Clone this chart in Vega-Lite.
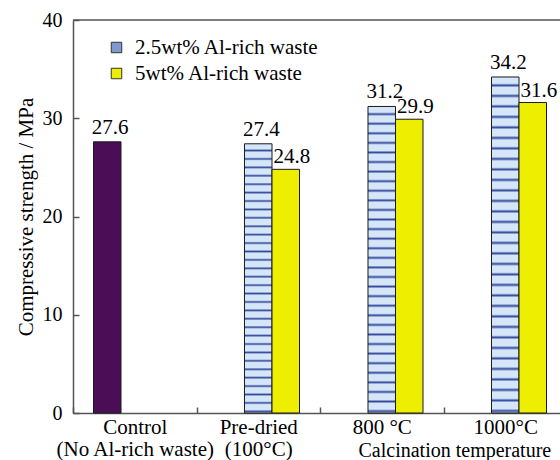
{
  "$schema": "https://vega.github.io/schema/vega-lite/v6.json",
  "autosize": {"type": "none"},
  "padding": {"left": 73, "top": 20, "right": 0, "bottom": 47},
  "width": 487,
  "height": 393,
  "background": "white",
  "config": {
    "font": "'Liberation Serif', 'Times New Roman', Times, serif",
    "view": {"stroke": null},
    "text": {"font": "'Liberation Serif', 'Times New Roman', Times, serif"},
    "axis": {
      "domainColor": "#555555",
      "domainWidth": 1.5,
      "tickColor": "#555555",
      "tickWidth": 1.5,
      "labelColor": "black",
      "titleColor": "black",
      "labelFont": "'Liberation Serif', 'Times New Roman', Times, serif",
      "titleFont": "'Liberation Serif', 'Times New Roman', Times, serif",
      "titleFontWeight": "normal",
      "grid": false
    },
    "legend": {"labelFont": "'Liberation Serif', 'Times New Roman', Times, serif", "labelColor": "black"}
  },
  "data": {
    "values": [
      {"cat": "Control|(No Al-rich waste)", "series": "Control", "value": 27.6},
      {"cat": "Pre-dried|(100°C)", "series": "2.5wt% Al-rich waste", "value": 27.4},
      {"cat": "Pre-dried|(100°C)", "series": "5wt% Al-rich waste", "value": 24.8},
      {"cat": "800 °C", "series": "2.5wt% Al-rich waste", "value": 31.2},
      {"cat": "800 °C", "series": "5wt% Al-rich waste", "value": 29.9},
      {"cat": "1000°C", "series": "2.5wt% Al-rich waste", "value": 34.2},
      {"cat": "1000°C", "series": "5wt% Al-rich waste", "value": 31.6}
    ]
  },
  "layer": [
    {
      "mark": {"type": "bar", "stroke": "#1a1a1a", "strokeWidth": 1},
      "encoding": {
        "x": {
          "field": "cat", "type": "nominal", "sort": null,
          "scale": {"range": [0, 494], "paddingInner": 0, "paddingOuter": 0},
          "axis": {
            "title": "Calcination temperature",
            "titleX": 285, "titleY": 37, "titleAlign": "left", "titleBaseline": "middle",
            "titleFontSize": 20, "titleAnchor": "start",
            "labelAngle": 0, "labelExpr": "split(datum.label, '|')", "labelLineHeight": 22,
            "labelFontSize": 21, "labelPadding": 9, "tickBand": "extent", "tickSize": -6
          }
        },
        "xOffset": {
          "field": "series", "type": "nominal",
          "scale": {"domain": ["Control", "2.5wt% Al-rich waste", "5wt% Al-rich waste"], "paddingInner": 0, "paddingOuter": 0.745}
        },
        "y": {
          "field": "value", "type": "quantitative",
          "scale": {"domain": [0, 40]},
          "axis": {
            "title": "Compressive strength / MPa", "values": [0, 10, 20, 30, 40],
            "tickSize": -6, "labelPadding": 17, "titlePadding": 6,
            "titleFontSize": 21, "labelFontSize": 20
          }
        },
        "fill": {
          "condition": {
            "test": "datum.series === '2.5wt% Al-rich waste'",
            "value": {
              "gradient": "linear", "x1": 0, "y1": 0, "x2": 0, "y2": 1,
              "stops": [
                {"offset": 0, "color": "#d4e6f7"}, {"offset": 0.0188, "color": "#d4e6f7"}, {"offset": 0.025, "color": "#34489c"},
                {"offset": 0.03125, "color": "#d4e6f7"}, {"offset": 0.05005, "color": "#d4e6f7"}, {"offset": 0.05625, "color": "#34489c"},
                {"offset": 0.0625, "color": "#d4e6f7"}, {"offset": 0.0813, "color": "#d4e6f7"}, {"offset": 0.0875, "color": "#34489c"},
                {"offset": 0.09375, "color": "#d4e6f7"}, {"offset": 0.11255, "color": "#d4e6f7"}, {"offset": 0.11875, "color": "#34489c"},
                {"offset": 0.125, "color": "#d4e6f7"}, {"offset": 0.1438, "color": "#d4e6f7"}, {"offset": 0.15, "color": "#34489c"},
                {"offset": 0.15625, "color": "#d4e6f7"}, {"offset": 0.17505, "color": "#d4e6f7"}, {"offset": 0.18125, "color": "#34489c"},
                {"offset": 0.1875, "color": "#d4e6f7"}, {"offset": 0.2063, "color": "#d4e6f7"}, {"offset": 0.2125, "color": "#34489c"},
                {"offset": 0.21875, "color": "#d4e6f7"}, {"offset": 0.23755, "color": "#d4e6f7"}, {"offset": 0.24375, "color": "#34489c"},
                {"offset": 0.25, "color": "#d4e6f7"}, {"offset": 0.2688, "color": "#d4e6f7"}, {"offset": 0.275, "color": "#34489c"},
                {"offset": 0.28125, "color": "#d4e6f7"}, {"offset": 0.30005, "color": "#d4e6f7"}, {"offset": 0.30625, "color": "#34489c"},
                {"offset": 0.3125, "color": "#d4e6f7"}, {"offset": 0.3313, "color": "#d4e6f7"}, {"offset": 0.3375, "color": "#34489c"},
                {"offset": 0.34375, "color": "#d4e6f7"}, {"offset": 0.36255, "color": "#d4e6f7"}, {"offset": 0.36875, "color": "#34489c"},
                {"offset": 0.375, "color": "#d4e6f7"}, {"offset": 0.3938, "color": "#d4e6f7"}, {"offset": 0.4, "color": "#34489c"},
                {"offset": 0.40625, "color": "#d4e6f7"}, {"offset": 0.42505, "color": "#d4e6f7"}, {"offset": 0.43125, "color": "#34489c"},
                {"offset": 0.4375, "color": "#d4e6f7"}, {"offset": 0.4563, "color": "#d4e6f7"}, {"offset": 0.4625, "color": "#34489c"},
                {"offset": 0.46875, "color": "#d4e6f7"}, {"offset": 0.48755, "color": "#d4e6f7"}, {"offset": 0.49375, "color": "#34489c"},
                {"offset": 0.5, "color": "#d4e6f7"}, {"offset": 0.5188, "color": "#d4e6f7"}, {"offset": 0.525, "color": "#34489c"},
                {"offset": 0.53125, "color": "#d4e6f7"}, {"offset": 0.55005, "color": "#d4e6f7"}, {"offset": 0.55625, "color": "#34489c"},
                {"offset": 0.5625, "color": "#d4e6f7"}, {"offset": 0.5813, "color": "#d4e6f7"}, {"offset": 0.5875, "color": "#34489c"},
                {"offset": 0.59375, "color": "#d4e6f7"}, {"offset": 0.61255, "color": "#d4e6f7"}, {"offset": 0.61875, "color": "#34489c"},
                {"offset": 0.625, "color": "#d4e6f7"}, {"offset": 0.6438, "color": "#d4e6f7"}, {"offset": 0.65, "color": "#34489c"},
                {"offset": 0.65625, "color": "#d4e6f7"}, {"offset": 0.67505, "color": "#d4e6f7"}, {"offset": 0.68125, "color": "#34489c"},
                {"offset": 0.6875, "color": "#d4e6f7"}, {"offset": 0.7063, "color": "#d4e6f7"}, {"offset": 0.7125, "color": "#34489c"},
                {"offset": 0.71875, "color": "#d4e6f7"}, {"offset": 0.73755, "color": "#d4e6f7"}, {"offset": 0.74375, "color": "#34489c"},
                {"offset": 0.75, "color": "#d4e6f7"}, {"offset": 0.7688, "color": "#d4e6f7"}, {"offset": 0.775, "color": "#34489c"},
                {"offset": 0.78125, "color": "#d4e6f7"}, {"offset": 0.80005, "color": "#d4e6f7"}, {"offset": 0.80625, "color": "#34489c"},
                {"offset": 0.8125, "color": "#d4e6f7"}, {"offset": 0.8313, "color": "#d4e6f7"}, {"offset": 0.8375, "color": "#34489c"},
                {"offset": 0.84375, "color": "#d4e6f7"}, {"offset": 0.86255, "color": "#d4e6f7"}, {"offset": 0.86875, "color": "#34489c"},
                {"offset": 0.875, "color": "#d4e6f7"}, {"offset": 0.8938, "color": "#d4e6f7"}, {"offset": 0.9, "color": "#34489c"},
                {"offset": 0.90625, "color": "#d4e6f7"}, {"offset": 0.92505, "color": "#d4e6f7"}, {"offset": 0.93125, "color": "#34489c"},
                {"offset": 0.9375, "color": "#d4e6f7"}, {"offset": 0.9563, "color": "#d4e6f7"}, {"offset": 0.9625, "color": "#34489c"},
                {"offset": 0.96875, "color": "#d4e6f7"}, {"offset": 0.98755, "color": "#d4e6f7"}, {"offset": 0.99375, "color": "#34489c"},
                {"offset": 1, "color": "#d4e6f7"}
              ]
            }
          },
          "field": "series", "type": "nominal",
          "scale": {
            "domain": ["Control", "2.5wt% Al-rich waste", "5wt% Al-rich waste"],
            "range": ["#4b0d55", "#8198cc", "#eeee00"]
          },
          "legend": {
            "values": ["2.5wt% Al-rich waste", "5wt% Al-rich waste"],
            "title": null, "orient": "none", "legendX": 33, "legendY": 17, "padding": 0,
            "symbolType": "square", "symbolSize": 110, "symbolStrokeColor": "#333333", "symbolStrokeWidth": 1,
            "labelFontSize": 21, "labelOffset": 8, "rowPadding": 4, "labelLimit": 400,
            "labelFont": "'Liberation Serif', 'Times New Roman', Times, serif"
          }
        }
      }
    },
    {
      "transform": [{"filter": "datum.series !== '5wt% Al-rich waste'"}],
      "mark": {"type": "text", "baseline": "bottom", "dy": -4, "dx": 3, "fontSize": 21, "color": "black", "font": "'Liberation Serif', 'Times New Roman', Times, serif"},
      "encoding": {
        "x": {"field": "cat", "type": "nominal", "sort": null},
        "xOffset": {"field": "series", "type": "nominal"},
        "y": {"field": "value", "type": "quantitative"},
        "text": {"field": "value", "type": "quantitative", "format": ".1f"}
      }
    },
    {
      "transform": [{"filter": "datum.series === '5wt% Al-rich waste'"}],
      "mark": {"type": "text", "baseline": "bottom", "dy": -2, "dx": 6, "fontSize": 21, "color": "black", "font": "'Liberation Serif', 'Times New Roman', Times, serif"},
      "encoding": {
        "x": {"field": "cat", "type": "nominal", "sort": null},
        "xOffset": {"field": "series", "type": "nominal"},
        "y": {"field": "value", "type": "quantitative"},
        "text": {"field": "value", "type": "quantitative", "format": ".1f"}
      }
    },
    {
      "data": {"values": [{"top": 40}]},
      "mark": {"type": "rule", "color": "#555555", "strokeWidth": 1.5},
      "encoding": {"y": {"field": "top", "type": "quantitative"}}
    }
  ]
}
